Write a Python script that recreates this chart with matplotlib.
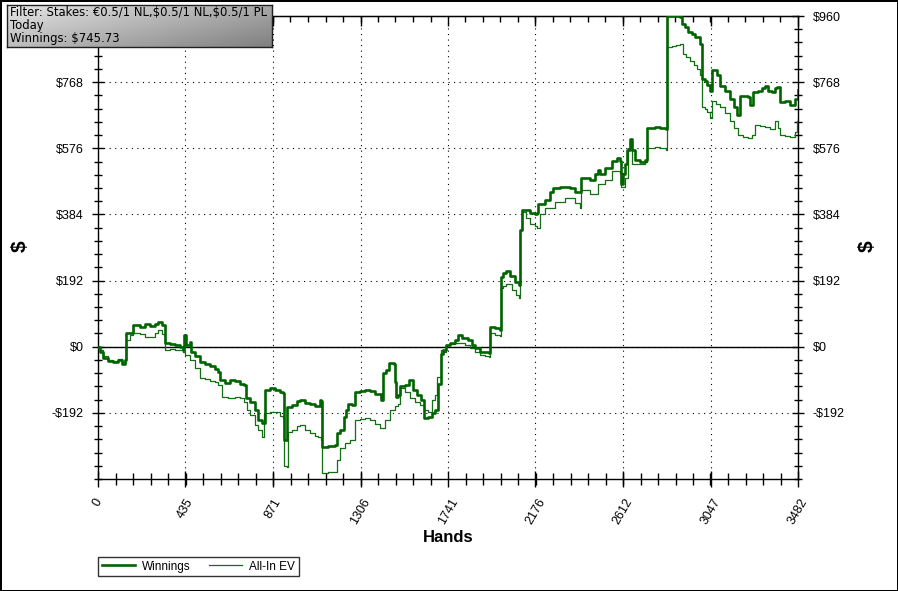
import numpy as np
import matplotlib.pyplot as plt
from matplotlib.ticker import MultipleLocator, FixedLocator
from matplotlib.lines import Line2D

plt.rcParams['font.family'] = ['Liberation Sans', 'DejaVu Sans']

# winnings curve (hands, $)
win_hands = [0, 10, 25, 50, 75, 99, 119, 134, 139, 159, 174, 209, 234, 259, 284, 298, 318, 333, 358, 383,
             408, 423, 428, 438, 458, 463, 482, 507, 532, 557, 582, 597, 607, 632, 657, 681, 706, 726, 736, 756,
             781, 796, 816, 831, 856, 880, 905, 920, 925, 935, 940, 965, 990, 1005, 1030, 1054, 1079, 1104, 1109, 1114,
             1144, 1179, 1189, 1204, 1224, 1234, 1244, 1263, 1278, 1303, 1328, 1353, 1378, 1408, 1418, 1433, 1447, 1472, 1477, 1482,
             1492, 1502, 1527, 1547, 1567, 1587, 1607, 1622, 1641, 1661, 1676, 1691, 1706, 1716, 1731, 1751, 1776, 1791, 1811, 1840,
             1860, 1875, 1900, 1925, 1945, 1950, 1975, 2000, 2005, 2014, 2029, 2049, 2074, 2094, 2099, 2109, 2129, 2149, 2174, 2184,
             2189, 2223, 2248, 2263, 2298, 2348, 2373, 2397, 2402, 2447, 2472, 2487, 2497, 2522, 2557, 2582, 2596, 2601, 2611, 2621,
             2631, 2646, 2656, 2671, 2696, 2721, 2731, 2771, 2795, 2825, 2830, 2855, 2875, 2895, 2905, 2920, 2935, 2955, 2970, 2994,
             3004, 3019, 3029, 3044, 3054, 3079, 3094, 3119, 3144, 3163, 3178, 3193, 3213, 3233, 3243, 3258, 3283, 3303, 3318, 3333,
             3352, 3367, 3377, 3392, 3417, 3442, 3467, 3482]
winnings = [0, -15, -32, -41, -44, -38, -49, -38, 41, 41, 64, 58, 67, 61, 67, 73, 64, 12, 9, 6,
            0, -9, 35, 6, 15, -15, -26, -44, -49, -55, -64, -73, -96, -105, -96, -99, -108, -110, -148, -160,
            -183, -212, -221, -125, -119, -125, -131, -134, -270, -270, -174, -169, -157, -154, -163, -166, -171, -154, -157, -291,
            -288, -285, -250, -241, -203, -183, -166, -169, -131, -128, -125, -128, -137, -154, -76, -67, -46, -49, -102, -145,
            -139, -113, -110, -96, -125, -139, -154, -206, -203, -192, -183, -108, -20, -9, 6, 12, 20, 35, 26, 20,
            6, -3, -15, -15, -17, 58, 55, 49, 203, 215, 221, 206, 189, 180, 340, 398, 398, 389, 384, 389,
            413, 427, 448, 462, 465, 462, 450, 450, 491, 485, 500, 514, 500, 520, 538, 549, 538, 471, 500, 529,
            572, 602, 572, 543, 535, 543, 634, 639, 636, 631, 959, 959, 960, 956, 936, 927, 915, 907, 898, 878,
            776, 770, 761, 741, 802, 790, 756, 741, 718, 695, 674, 727, 729, 724, 703, 738, 741, 750, 756, 741,
            738, 750, 753, 709, 712, 703, 718, 745.73]

# all-in EV curve (hands, $)
ev_hands = [0, 10, 25, 50, 75, 99, 119, 134, 139, 159, 174, 209, 234, 259, 284, 298, 318, 333, 358, 383,
            408, 423, 433, 458, 482, 507, 532, 557, 582, 597, 617, 647, 681, 706, 726, 741, 756, 781, 796, 816,
            826, 856, 880, 905, 920, 925, 940, 945, 965, 990, 1005, 1030, 1054, 1079, 1094, 1109, 1114, 1144, 1179, 1189,
            1204, 1229, 1253, 1278, 1303, 1328, 1353, 1378, 1403, 1428, 1452, 1477, 1492, 1502, 1527, 1552, 1577, 1602, 1622, 1641,
            1661, 1676, 1686, 1706, 1716, 1731, 1751, 1776, 1801, 1825, 1850, 1875, 1900, 1925, 1945, 1950, 1975, 2000, 2005, 2014,
            2029, 2059, 2079, 2094, 2099, 2109, 2129, 2149, 2174, 2184, 2199, 2223, 2273, 2323, 2373, 2397, 2402, 2447, 2487, 2522,
            2557, 2596, 2601, 2621, 2636, 2656, 2696, 2721, 2731, 2771, 2795, 2825, 2830, 2855, 2875, 2895, 2910, 2925, 2945, 2965,
            2980, 2994, 3004, 3019, 3029, 3044, 3054, 3074, 3094, 3119, 3144, 3163, 3183, 3208, 3233, 3253, 3268, 3293, 3318, 3343,
            3367, 3382, 3392, 3417, 3442, 3467, 3477, 3482]
allin_ev = [0, -9, -26, -38, -41, -35, -44, -35, 20, 35, 41, 38, 29, 29, 41, 49, 38, -9, -6, -9,
            -9, -15, -23, -38, -61, -90, -93, -99, -102, -110, -145, -148, -145, -148, -160, -183, -198, -227, -241, -262,
            -192, -189, -189, -201, -206, -346, -349, -247, -241, -230, -227, -241, -250, -259, -262, -270, -366, -363, -363, -328,
            -294, -279, -270, -212, -209, -206, -212, -224, -235, -212, -183, -171, -166, -119, -131, -148, -160, -169, -183, -189,
            -154, -139, -87, -9, -15, 6, 9, 12, 12, 6, -3, -15, -23, -26, -29, 41, 35, 32, 171, 177,
            183, 166, 151, 142, 340, 392, 375, 355, 349, 346, 384, 404, 421, 433, 418, 404, 456, 442, 471, 485,
            509, 500, 465, 491, 578, 529, 529, 535, 578, 581, 578, 572, 869, 872, 875, 878, 849, 840, 828, 817,
            805, 790, 695, 689, 680, 663, 712, 706, 697, 677, 654, 636, 616, 610, 607, 616, 645, 642, 639, 631,
            654, 636, 616, 613, 610, 622, 654, 660]

x_ticks = [0, 435, 871, 1306, 1741, 2176, 2612, 3047, 3482]
y_ticks = [-192, 0, 192, 384, 576, 768, 960]
y_labels = ['-$192', '$0', '$192', '$384', '$576', '$768', '$960']

info_lines = ['Filter: Stakes: €0.5/1 NL,$0.5/1 NL,$0.5/1 PL', 'Today', 'Winnings: $745.73']

W, H = 898, 591
fig = plt.figure(figsize=(W / 100, H / 100), dpi=100)
fig.patch.set_facecolor('white')
fig.patch.set_edgecolor('black')
fig.patch.set_linewidth(2)

ax = fig.add_axes([98 / W, 1 - 479 / H, 700 / W, 463 / H])
green = '#006400'
ev_green = '#136f13'
ax.plot(ev_hands, allin_ev, color=ev_green, lw=0.9, drawstyle='steps-post', zorder=3)
ax.plot(win_hands, winnings, color=green, lw=1.9, drawstyle='steps-post', zorder=4)
ax.axhline(0, color='black', lw=1, zorder=2)

ax.set_xlim(0, 3482)
ax.set_ylim(-384, 960)

ax.xaxis.set_major_locator(FixedLocator(x_ticks))
ax.set_xticklabels([str(t) for t in x_ticks])
ax.xaxis.set_minor_locator(MultipleLocator(3482 / 40))
ax.yaxis.set_major_locator(FixedLocator(y_ticks))
ax.set_yticklabels(y_labels)
ax.yaxis.set_minor_locator(MultipleLocator(38.4))

ax.grid(which='major', color='black', linestyle=(0, (1, 4)), lw=0.8)
ax.tick_params(axis='y', which='both', direction='inout', left=True, right=True,
               labelleft=True, labelright=True, labelsize=9, width=1)
ax.tick_params(axis='y', which='major', length=9, pad=6)
ax.tick_params(axis='y', which='minor', length=6)
ax.tick_params(axis='x', which='both', direction='inout', bottom=True, top=False, width=1)
ax.tick_params(axis='x', which='major', length=11, pad=7, labelsize=9)
ax.tick_params(axis='x', which='minor', length=8)
for lab in ax.get_xticklabels():
    lab.set_rotation(60)
    lab.set_ha('center')
    lab.set_va('top')
for sp in ax.spines.values():
    sp.set_linewidth(1)
# the left $960 label sits under the info box
ax.yaxis.get_major_ticks()[-1].label1.set_visible(False)

top = ax.secondary_xaxis('top')
top.xaxis.set_major_locator(FixedLocator(x_ticks))
top.xaxis.set_minor_locator(MultipleLocator(3482 / 40))
top.tick_params(which='both', direction='in', labeltop=False, width=1)
top.tick_params(which='major', length=7)
top.tick_params(which='minor', length=4)

fig.text(20 / W, 1 - 246 / H, '$', rotation=90, ha='center', va='center', fontsize=15, weight='bold')
fig.text(867 / W, 1 - 246 / H, '$', rotation=90, ha='center', va='center', fontsize=15, weight='bold')
fig.text(448 / W, 1 - 538 / H, 'Hands', ha='center', va='center', fontsize=12, weight='bold')

handles = [Line2D([], [], color=green, lw=1.9), Line2D([], [], color=ev_green, lw=0.9)]
leg = fig.legend(handles, ['Winnings', 'All-In EV'], loc='upper left',
                 bbox_to_anchor=(98 / W, 1 - 557 / H), ncol=2, fontsize=8.5, frameon=True,
                 fancybox=False, edgecolor='black', borderpad=0.3, borderaxespad=0,
                 handlelength=2.8, handletextpad=0.6, columnspacing=1.6)
leg.get_frame().set_linewidth(1)

# info box with grey gradient
box = fig.add_axes([7 / W, 1 - 47 / H, 265 / W, 42 / H])
gx, gy = np.meshgrid(np.linspace(0, 1, 200), np.linspace(0, 1, 60))
grad = 0.9 - 0.4 * (0.6 * gx + 0.4 * gy)
box.imshow(grad, cmap='gray', vmin=0, vmax=1, aspect='auto', extent=(0, 1, 1, 0))
box.set_xlim(0, 1)
box.set_ylim(1, 0)
box.set_xticks([])
box.set_yticks([])
for sp in box.spines.values():
    sp.set_linewidth(1)
    sp.set_color('#202020')
for i, line in enumerate(info_lines):
    box.text(3 / 265, (1 + i * 13) / 42, line, ha='left', va='top', fontsize=8.4,
             family=['DejaVu Sans'], color='black', parse_math=False)

fig.savefig('out.png', dpi=100, facecolor=fig.get_facecolor(), edgecolor=fig.get_edgecolor())
